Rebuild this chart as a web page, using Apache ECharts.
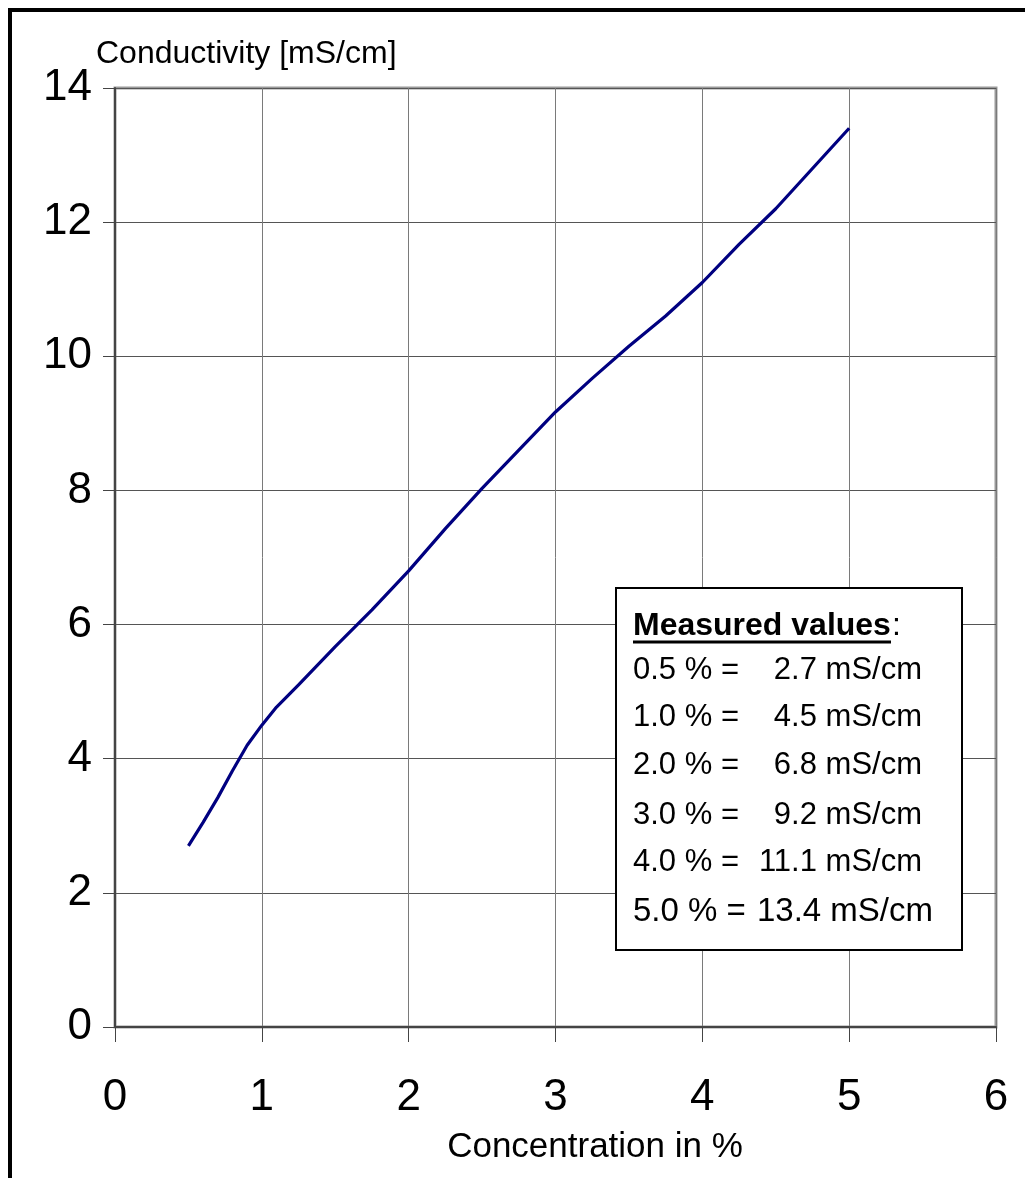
<!DOCTYPE html>
<html>
<head>
<meta charset="utf-8">
<script src="https://cdn.jsdelivr.net/npm/echarts@6/dist/echarts.min.js"></script>
<style>
html,body{margin:0;padding:0;background:#fff;}
#chart{width:1025px;height:1178px;}
</style>
</head>
<body>
<div id="chart"></div>
<script>
// Data
var concentration = [0.5, 0.6, 0.7, 0.8, 0.9, 1.0, 1.1, 1.25, 1.5, 1.75, 2.0, 2.25, 2.5, 2.75, 3.0, 3.25, 3.5, 3.75, 4.0, 4.25, 4.5, 4.75, 5.0];
var conductivity  = [2.7, 3.05, 3.42, 3.82, 4.2, 4.5, 4.77, 5.1, 5.67, 6.22, 6.8, 7.43, 8.03, 8.6, 9.17, 9.67, 10.15, 10.6, 11.1, 11.67, 12.2, 12.8, 13.4];
var xTicks = [0, 1, 2, 3, 4, 5, 6];
var yTicks = [0, 2, 4, 6, 8, 10, 12, 14];
var yAxisTitle = 'Conductivity [mS/cm]';
var xAxisTitle = 'Concentration in %';
var boxTitle = 'Measured values';
var boxLeft = ['0.5 % =', '1.0 % =', '2.0 % =', '3.0 % =', '4.0 % =', '5.0 % ='];
var boxRight = ['2.7 mS/cm', '4.5 mS/cm', '6.8 mS/cm', '9.2 mS/cm', '11.1 mS/cm', '13.4 mS/cm'];

var FONT = '"Liberation Sans", Arial, Helvetica, sans-serif';
var chart = echarts.init(document.getElementById('chart'), null, {renderer: 'canvas'});

var lineData = concentration.map(function (c, i) { return [c, conductivity[i]]; });

var rowY = [670, 717, 765, 815, 862, 912];
var graphics = [
  // outer frame (top and left edges)
  {type: 'polyline', silent: true, z: 100,
   shape: {points: [[10, 1178], [10, 10], [1025, 10]]},
   style: {stroke: '#000', lineWidth: 4, fill: null}},
  // axis titles
  {type: 'text', silent: true, style: {x: 96, y: 54, text: yAxisTitle, font: '32px ' + FONT, fill: '#000', textAlign: 'left', textVerticalAlign: 'middle'}},
  {type: 'text', silent: true, style: {x: 595, y: 1147, text: xAxisTitle, font: '35px ' + FONT, fill: '#000', textAlign: 'center', textVerticalAlign: 'middle'}},
  // measured values box
  {type: 'rect', silent: true, z: 50, shape: {x: 616, y: 588, width: 346, height: 362},
   style: {fill: '#fff', stroke: '#000', lineWidth: 2}},
  {type: 'text', silent: true, z: 51, style: {x: 633, y: 626, text: boxTitle, font: 'bold 32px ' + FONT, fill: '#000', textAlign: 'left', textVerticalAlign: 'middle'}},
  {type: 'text', silent: true, z: 51, style: {x: 892, y: 626, text: ':', font: '32px ' + FONT, fill: '#000', textAlign: 'left', textVerticalAlign: 'middle'}},
  {type: 'line', silent: true, z: 51, shape: {x1: 633, y1: 642, x2: 891, y2: 642}, style: {stroke: '#000', lineWidth: 3}}
];
boxLeft.forEach(function (t, i) {
  var last = i === boxLeft.length - 1;
  var fs = last ? 33 : 31;
  graphics.push({type: 'text', silent: true, z: 51, style: {x: 633, y: rowY[i], text: t, font: fs + 'px ' + FONT, fill: '#000', textAlign: 'left', textVerticalAlign: 'middle'}});
  graphics.push({type: 'text', silent: true, z: 51, style: {x: last ? 933 : 922, y: rowY[i], text: boxRight[i], font: fs + 'px ' + FONT, fill: '#000', textAlign: 'right', textVerticalAlign: 'middle'}});
});

var option = {
  backgroundColor: '#fff',
  animation: false,
  grid: {left: 115, top: 88, right: 29, bottom: 151, show: true, borderColor: '#9a9a9a', borderWidth: 3, backgroundColor: 'transparent'},
  xAxis: {
    type: 'value', min: 0, max: 6, interval: 1,
    axisLine: {show: true, onZero: false, lineStyle: {color: '#444', width: 2}},
    axisTick: {show: true, length: 15, inside: false, lineStyle: {color: '#444', width: 1}},
    axisLabel: {margin: 49, fontSize: 44, color: '#000', fontFamily: FONT, formatter: function (v) { return xTicks.indexOf(v) >= 0 ? String(v) : ''; }},
    splitLine: {show: true, lineStyle: {color: '#7a7a7a', width: 1}}
  },
  yAxis: {
    type: 'value', min: 0, max: 14, interval: 2,
    axisLine: {show: true, onZero: false, lineStyle: {color: '#444', width: 2}},
    axisTick: {show: true, length: 12, inside: false, lineStyle: {color: '#444', width: 1}},
    axisLabel: {margin: 23, fontSize: 44, color: '#000', fontFamily: FONT, formatter: function (v) { return yTicks.indexOf(v) >= 0 ? String(v) : ''; }},
    splitLine: {show: true, lineStyle: {color: '#555', width: 1}}
  },
  series: [{
    type: 'line', data: lineData, showSymbol: false, smooth: false,
    lineStyle: {color: '#000080', width: 3.2}, z: 10
  }],
  graphic: graphics
};
chart.setOption(option);
</script>
</body>
</html>
